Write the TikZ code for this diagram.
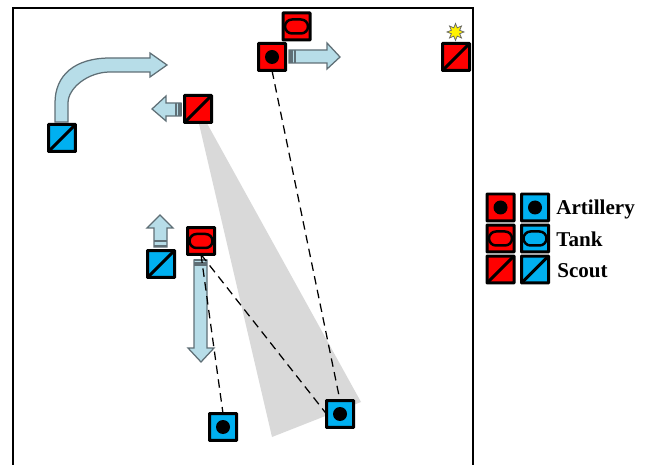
\documentclass[tikz,border=0pt]{standalone}
\usepackage{fontspec}
\setmainfont{Liberation Serif}
\usetikzlibrary{shapes.geometric}
\definecolor{unitred}{HTML}{FF0000}
\definecolor{unitblue}{HTML}{00B0F0}
\definecolor{movefill}{HTML}{B7DDE8}
\definecolor{moveedge}{HTML}{5F6F76}
\tikzset{
    unitbox/.style={draw=black,line width=0.06cm,rounded corners=0.01cm,minimum size=0.54cm,inner sep=0pt,outer sep=0pt},
    redunit/.style={unitbox,fill=unitred},
    blueunit/.style={unitbox,fill=unitblue},
    artillery/.style={path picture={\fill [black] (path picture bounding box.center) circle (0.14cm);}},
    tank/.style={path picture={\draw [black,line width=0.05cm,rounded corners=0.14cm]
        ([xshift=-0.23cm,yshift=-0.14cm]path picture bounding box.center) rectangle
        ([xshift=0.23cm,yshift=0.14cm]path picture bounding box.center);}},
    scout/.style={path picture={\draw [black,line width=0.06cm]
        (path picture bounding box.south west) -- (path picture bounding box.north east);}},
    movearrow/.style={draw=moveedge,fill=movefill,line width=0.025cm},
    movestripe/.style={moveedge,line width=0.04cm},
    sightline/.style={black,line width=0.025cm,dash pattern=on 0.17cm off 0.11cm},
    legendtext/.style={anchor=base west,inner sep=0pt,font=\fontsize{12}{14}\selectfont\bfseries}
}
\begin{document}
\begin{tikzpicture}[x=0.02cm,y=-0.02cm]
    \useasboundingbox (0,0) rectangle (648,465);
    \draw [line width=0.04cm] (13,465) -- (13,8) -- (473,8) -- (473,465);
    % field of view
    \fill [black!15] (193,98) -- (361,402) -- (272,437) -- cycle;
    % movement arrows
    \draw [movearrow] (55,122) -- (55,103) .. controls (55,75) and (75,58) .. (110,58) -- (150,58) -- (150,53)
        -- (167,65) -- (150,77) -- (150,72) -- (110,72) .. controls (88,72) and (68,88) .. (68,103) -- (68,122) -- cycle;
    \draw [movearrow] (181,103) -- (166,103) -- (166,96) -- (152,109) -- (166,121) -- (166,116) -- (181,116) -- cycle;
    \draw [movearrow] (289,50) -- (327,50) -- (327,43) -- (340,57) -- (327,69) -- (327,63) -- (289,63) -- cycle;
    \draw [movearrow] (154,247) -- (154,228) -- (147,228) -- (160,215) -- (173,228) -- (167,228) -- (167,247) -- cycle;
    \draw [movearrow] (194,260) -- (194,348) -- (188,348) -- (201,362) -- (214,348) -- (207,348) -- (207,260) -- cycle;
    \foreach \n in {176,178.5,181}{
        \draw [movestripe] (\n,103) -- (\n,116);
    }
    \foreach \n in {289.5,292,294.5}{
        \draw [movestripe] (\n,50) -- (\n,63);
    }
    \foreach \n in {241.5,246.5}{
        \draw [movestripe] (154,\n) -- (167,\n);
    }
    \foreach \n in {260.5,263,265.5}{
        \draw [movestripe] (194,\n) -- (207,\n);
    }
    % units on the field
    \node [redunit,tank] (redtank) at (296.5,26.5) {};
    \node [redunit,artillery] (redart) at (272,57) {};
    \node [redunit,scout] (redscoutA) at (198,109) {};
    \node [redunit,scout] (redscoutB) at (456,57) {};
    \node [redunit,tank] (redtankB) at (201,241) {};
    \node [blueunit,scout] (bluescoutA) at (62,138) {};
    \node [blueunit,scout] (bluescoutB) at (161,264) {};
    \node [blueunit,artillery] (blueartA) at (223,427) {};
    \node [blueunit,artillery] (blueartB) at (340,414) {};
    \node [star,star points=8,star point ratio=1.9,minimum size=0.34cm,inner sep=0pt,fill=yellow,draw=black!60,line width=0.015cm] (flash) at (455.5,32) {};
    % lines of sight
    \draw [sightline] (redart.south) -- (blueartB.north);
    \draw [sightline] (redtankB.south) -- (blueartB.west);
    \draw [sightline] (redtankB.south) -- (blueartA.north);
    % legend
    \node [redunit,artillery] (keyredart) at (500.5,207.5) {};
    \node [blueunit,artillery] (keyblueart) at (535,207.5) {};
    \node [redunit,tank] (keyredtank) at (500.5,238.5) {};
    \node [blueunit,tank] (keybluetank) at (535,238.5) {};
    \node [redunit,scout] (keyredscout) at (500.5,269.5) {};
    \node [blueunit,scout] (keybluescout) at (535,269.5) {};
    \node [legendtext] (keyart) at (556,214.5) {Artillery};
    \node [legendtext] (keytank) at (556,246.5) {Tank};
    \node [legendtext] (keyscout) at (557,277.5) {Scout};
\end{tikzpicture}
\end{document}
